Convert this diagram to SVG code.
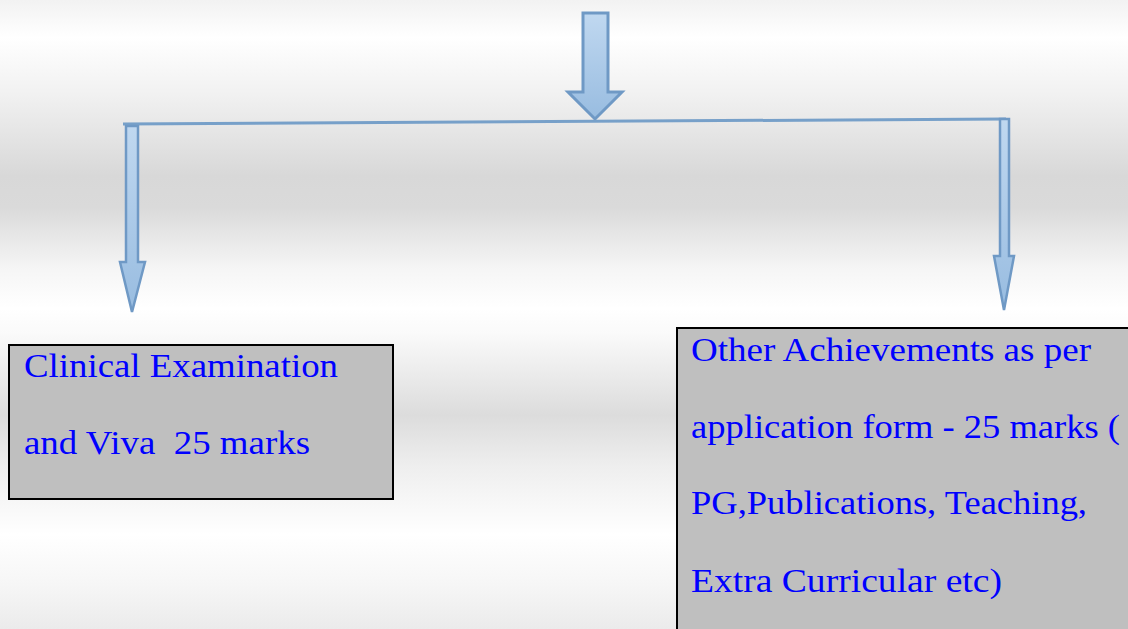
<svg xmlns="http://www.w3.org/2000/svg" width="1128" height="629" viewBox="0 0 1128 629">
  <defs>
    <linearGradient id="bg" x1="0" y1="0" x2="0" y2="629" gradientUnits="userSpaceOnUse">
      <stop offset="0" stop-color="#f2f2f2"/>
      <stop offset="0.06" stop-color="#ffffff"/>
      <stop offset="0.15" stop-color="#f1f1f1"/>
      <stop offset="0.28" stop-color="#d8d8d8"/>
      <stop offset="0.33" stop-color="#dadada"/>
      <stop offset="0.43" stop-color="#f6f6f6"/>
      <stop offset="0.49" stop-color="#ffffff"/>
      <stop offset="0.53" stop-color="#fafafa"/>
      <stop offset="0.66" stop-color="#dcdcdc"/>
      <stop offset="0.74" stop-color="#eeeeee"/>
      <stop offset="0.85" stop-color="#ffffff"/>
      <stop offset="0.93" stop-color="#f6f6f6"/>
      <stop offset="1" stop-color="#ebebeb"/>
    </linearGradient>
    <linearGradient id="arrowFill" x1="0" y1="0" x2="0" y2="1">
      <stop offset="0" stop-color="#c0d8f0"/>
      <stop offset="1" stop-color="#98bce0"/>
    </linearGradient>
    <style>
      .arrow { fill: url(#arrowFill); stroke: #6f99c5; stroke-width: 3; stroke-linejoin: miter; }
      .thin { stroke-width: 2.5; }
      .bar { fill: none; stroke: #77a0c9; stroke-width: 3; }
      .box { fill: #bfbfbf; stroke: #000000; stroke-width: 2; }
      .lbl { font-family: "Liberation Serif", "DejaVu Serif", serif; font-size: 34px; fill: #0000ff; }
    </style>
  </defs>
  <rect x="0" y="0" width="1128" height="629" fill="url(#bg)"/>

  <g id="connectors">
    <polygon class="arrow" points="583,13 608,13 608,92 622,92 595,119 568,92 583,92"/>
    <line class="bar" x1="123" y1="124" x2="1006" y2="119"/>
    <polygon class="arrow thin" points="126,126 138,126 138,262 145,262 132,312 120,262 126,262"/>
    <polygon class="arrow thin" points="1000,119 1009,119 1009,256 1014,256 1004,310 994,256 1000,256"/>
  </g>

  <g id="node-clinical">
    <rect class="box" x="9" y="345" width="384" height="154"/>
    <text class="lbl" x="24" y="377" textLength="314" lengthAdjust="spacingAndGlyphs">Clinical Examination</text>
    <text class="lbl" x="24" y="454" textLength="286" lengthAdjust="spacingAndGlyphs" xml:space="preserve">and Viva  25 marks</text>
  </g>

  <g id="node-achievements">
    <rect class="box" x="677" y="328" width="460" height="320"/>
    <text class="lbl" x="691" y="361" textLength="400" lengthAdjust="spacingAndGlyphs">Other Achievements as per</text>
    <text class="lbl" x="691" y="438" textLength="429" lengthAdjust="spacingAndGlyphs">application form - 25 marks (</text>
    <text class="lbl" x="691" y="514" textLength="396" lengthAdjust="spacingAndGlyphs">PG,Publications, Teaching,</text>
    <text class="lbl" x="691" y="592" textLength="311" lengthAdjust="spacingAndGlyphs">Extra Curricular etc)</text>
  </g>
</svg>
